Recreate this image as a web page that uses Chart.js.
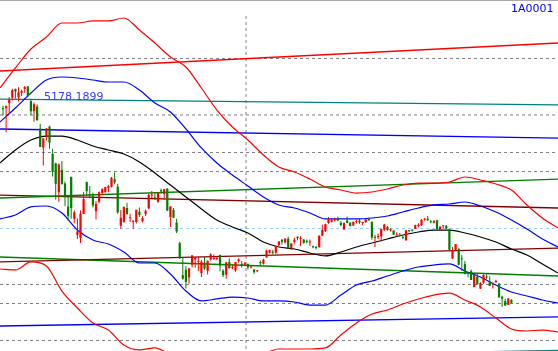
<!DOCTYPE html>
<html>
<head>
<meta charset="utf-8">
<script src="https://cdn.jsdelivr.net/npm/chart.js@4.4.0/dist/chart.umd.min.js"></script>
<style>
  html, body { margin: 0; padding: 0; background: #fff; }
  canvas { display: block; }
</style>
</head>
<body>
<canvas id="chartK" width="558" height="351"></canvas>
<script>
// daily bars, index 0 = first bar on the left
const openP = [4924,4924,4982,5045,5145,5049,5100,5144,5174,5004,
  4890,4942,4690,4471,4604,4711,4399,4289,3956,4214,
  4058,3793,4132,3654,3467,3432,3707,4074,3926,3919,
  3740,3850,3949,3957,4007,4020,4108,4020,3573,3616,
  3776,3658,3614,3616,3734,3624,3706,3773,3920,3895,
  3848,3979,3936,3997,3672,3754,3609,3373,3004,3067,
  2978,3125,3186,3157,3027,3149,3054,3182,3190,3189,
  3237,3054,3009,3155,3084,3057,3167,3134,3125,3134,
  3093,3070,3049,3156,3135,3207,3263,3265,3261,3348,
  3411,3381,3423,3312,3385,3446,3418,3413,3393,3380,
  3337,3325,3325,3459,3514,3603,3619,3634,3657,3606,
  3531,3632,3608,3575,3618,3631,3602,3614,3659,3616,
  3433,3442,3450,3525,3558,3518,3518,3462,3469,3441,
  3404,3513,3522,3537,3570,3576,3643,3652,3621,3607,
  3635,3528,3566,3570,3536,3196,3291,3309,3194,3131,
  3026,3050,2868,2988,2850,2919,2987,2934,2902,2923,
  2907,2756,2707,2662,2720]
const highP = [4951,4955,5051,5146,5147,5164,5137,5178,5176,5029,
  4986,4966,4744,4577,4691,4720,4456,4297,4287,4317,
  4080,3927,4137,3748,3654,3748,3959,4080,4030,3955,
  3856,3965,4002,4020,4041,4132,4184,4054,3754,3790,
  3837,3710,3638,3756,3782,3680,3758,3943,3970,3948,
  3955,4000,3994,4006,3795,3777,3652,3388,3214,3107,
  3085,3232,3214,3214,3180,3217,3174,3256,3243,3223,
  3239,3072,3152,3196,3127,3157,3200,3166,3155,3138,
  3114,3073,3062,3172,3194,3295,3296,3297,3338,3395,
  3420,3425,3447,3371,3433,3449,3455,3417,3413,3413,
  3346,3339,3459,3585,3596,3673,3648,3665,3679,3628,
  3607,3678,3610,3617,3640,3654,3617,3647,3668,3621,
  3470,3483,3537,3591,3568,3543,3519,3497,3490,3453,
  3520,3524,3534,3583,3600,3651,3662,3684,3640,3637,
  3636,3563,3573,3580,3538,3328,3362,3309,3235,3166,
  3042,3069,3011,3019,2922,3013,3016,2992,2918,2951,
  2915,2767,2733,2740,2728]
const lowP = [4838,4647,4853,5010,5035,5001,5064,5100,5048,4842,
  4767,4780,4476,4264,4552,4456,4139,3875,3847,4043,
  3795,3629,3653,3600,3421,3373,3707,3917,3889,3782,
  3643,3834,3926,3955,3957,4013,4048,3710,3537,3606,
  3702,3615,3537,3598,3673,3610,3683,3763,3891,3872,
  3836,3940,3871,3741,3558,3663,3490,3191,2952,2850,
  2906,3092,3089,3053,2983,3066,3011,3174,3178,3180,
  3049,2983,2964,3079,3071,3043,3149,3092,3110,3069,
  3081,3021,3039,3116,3128,3207,3252,3246,3251,3341,
  3356,3367,3306,3296,3369,3405,3340,3367,3371,3339,
  3313,3302,3322,3455,3500,3596,3610,3620,3627,3568,
  3524,3601,3565,3573,3600,3596,3577,3605,3629,3412,
  3327,3419,3392,3512,3514,3505,3465,3461,3450,3418,
  3403,3495,3505,3537,3555,3571,3629,3627,3600,3600,
  3533,3521,3538,3538,3295,3189,3288,3115,3056,3016,
  2979,2949,2867,2897,2844,2906,2961,2880,2851,2917,
  2748,2638,2653,2662,2680]
const closeP = [4910,4947,5023,5131,5113,5106,5121,5166,5062,4887,
  4967,4785,4478,4576,4690,4527,4192,4053,4277,4053,
  3912,3686,3775,3727,3507,3709,3877,3970,3924,3805,
  3823,3957,3992,4017,4026,4123,4070,3725,3663,3789,
  3705,3663,3622,3756,3694,3661,3744,3928,3927,3886,
  3954,3965,3993,3748,3794,3664,3507,3209,2964,2927,
  3083,3232,3205,3166,3160,3080,3170,3243,3197,3200,
  3114,3005,3152,3086,3097,3156,3185,3115,3142,3092,
  3100,3038,3052,3143,3183,3287,3293,3262,3338,3391,
  3386,3425,3320,3368,3412,3429,3434,3375,3387,3382,
  3325,3316,3459,3522,3590,3646,3640,3650,3632,3580,
  3606,3604,3568,3617,3630,3610,3616,3647,3635,3436,
  3445,3456,3536,3584,3524,3536,3470,3472,3455,3434,
  3520,3510,3516,3580,3578,3642,3651,3636,3612,3627,
  3533,3563,3572,3539,3296,3287,3361,3125,3186,3016,
  3022,2949,3007,2900,2913,3007,2976,2880,2916,2938,
  2749,2735,2655,2737,2688]

// band curves, read every 5 bars from bar -1 to bar 179
const curveX = [-1,4,9,14,19,24,29,34,39,44,49,54,59,64,69,74,79,84,89,94,99,104,109,114,119,124,129,134,139,144,149,154,159,164,169,174,179]
const upperRed = [5155,5385,5603,5741,5902,5902,5925,5925,5959,5821,5672,5511,5396,5155,4902,4707,4557,4385,4247,4190,4109,4017,3983,3948,3960,3994,4040,4063,4063,4075,4132,4098,4052,3983,3811,3661,3546]
const upperBlue = [4764,4925,5097,5247,5281,5270,5247,5224,5224,5132,4983,4879,4684,4466,4293,4155,4029,3903,3811,3776,3719,3650,3650,3650,3661,3684,3730,3776,3811,3822,3845,3799,3730,3638,3535,3420,3328]
const midBlack = [4293,4443,4557,4603,4603,4557,4488,4443,4396,4305,4178,4040,3903,3765,3638,3558,3489,3385,3328,3305,3259,3225,3270,3328,3374,3420,3466,3500,3523,3523,3489,3443,3385,3305,3236,3133,3029]
const lowerBlue = [3650,3696,3788,3799,3719,3523,3408,3362,3270,3144,3144,3018,2822,2708,2731,2753,2742,2708,2708,2696,2661,2661,2776,2891,2937,2995,3052,3098,3121,3133,3052,2983,2891,2811,2765,2719,2684]
const lowerRed = [3075,3064,3156,3110,2822,2627,2455,2374,2202,2145,2168,2087,2007,1961,1961,1984,2030,2099,2156,2156,2156,2168,2317,2455,2558,2604,2673,2731,2776,2799,2719,2639,2512,2386,2363,2374,2351]

// straight channel lines, value at left edge and right edge
const lineX = [-0.97, 179.03]
const redLine = [5350, 5672]
const tealLine = [5028, 4960]
const blueLine = [4684, 4580]
const greenLine = [3891, 4109]
const maroonLine = [3925, 3776]
const maroonLine2 = [3156, 3316]
const greenLine2 = [3213, 2995]
const blueLine2 = [2420, 2524]
const tealLine2 = [2020, 2140]

const gridLevels = [5494, 4845, 4414, 4195, 2897, 2679, 2254]
const refLevel = 3541
const markBar = 78.4
const markTop = 5982
const highLabel = '5178.1899'
const codeLabel = '1A0001'

const ctx = document.getElementById('chartK')

const upColor = '#ff0000'
const downColor = '#008000'
const barColors = closeP.map((c, i) => c >= openP[i] ? upColor : downColor)

function curve(vals, color) {
  return {
    type: 'line',
    data: curveX.map((x, i) => ({x: x, y: vals[i]})),
    borderColor: color,
    borderWidth: 1.2,
    pointRadius: 0,
    cubicInterpolationMode: 'monotone'
  }
}

function straight(vals, color) {
  return {
    type: 'line',
    data: lineX.map((x, i) => ({x: x, y: vals[i]})),
    borderColor: color,
    borderWidth: 1.3,
    pointRadius: 0
  }
}

function dashed(points, color) {
  return {
    type: 'line',
    data: points,
    borderColor: color,
    borderWidth: 1,
    borderDash: [3, 3],
    pointRadius: 0
  }
}

const gridSets = gridLevels.map(v => dashed(lineX.map(x => ({x: x, y: v})), '#808080'))

const textPlugin = {
  id: 'texts',
  afterDraw(chart) {
    const c = chart.ctx
    c.save()
    c.fillStyle = '#a8a8a8'
    c.fillRect(0, 0, chart.width, 1)
    c.font = '11px "DejaVu Sans"'
    c.textBaseline = 'middle'
    c.fillStyle = '#3a3aff'
    c.fillText(highLabel, 44, 97)
    c.fillStyle = '#0000ff'
    c.fillText(codeLabel, 511, 9)
    c.restore()
  }
}

const chartK = new Chart(ctx, {
  type: 'bar',
  data: {
    datasets: [
      {
        // wicks
        data: highP.map((h, i) => ({x: i, y: [lowP[i], h]})),
        backgroundColor: barColors,
        grouped: false,
        maxBarThickness: 1,
        minBarLength: 1
      },
      {
        // bodies
        data: openP.map((o, i) => ({x: i, y: [o, closeP[i]]})),
        backgroundColor: barColors,
        grouped: false,
        maxBarThickness: 2.4,
        minBarLength: 1
      },
      curve(upperRed, '#ff0000'),
      curve(upperBlue, '#0000ff'),
      curve(midBlack, '#000000'),
      curve(lowerBlue, '#0000ff'),
      curve(lowerRed, '#ff0000'),
      straight(redLine, '#ff0000'),
      straight(tealLine, '#008080'),
      straight(blueLine, '#0000ff'),
      straight(greenLine, '#008000'),
      straight(maroonLine, '#800000'),
      straight(maroonLine2, '#800000'),
      straight(greenLine2, '#008000'),
      straight(blueLine2, '#0000ff'),
      straight(tealLine2, '#008080'),
      dashed([{x: markBar, y: markTop}, {x: markBar, y: 2133}], '#808080'),
      dashed(lineX.map(x => ({x: x, y: refLevel})), '#99ccff'),
      ...gridSets
    ]
  },
  options: {
    responsive: false,
    animation: false,
    layout: { padding: 0 },
    plugins: {
      legend: { display: false },
      tooltip: { enabled: false }
    },
    scales: {
      x: { type: 'linear', min: -0.97, max: 179.03, offset: false, display: false },
      y: { min: 2133, max: 6166, display: false }
    }
  },
  plugins: [textPlugin]
});
</script>
</body>
</html>
